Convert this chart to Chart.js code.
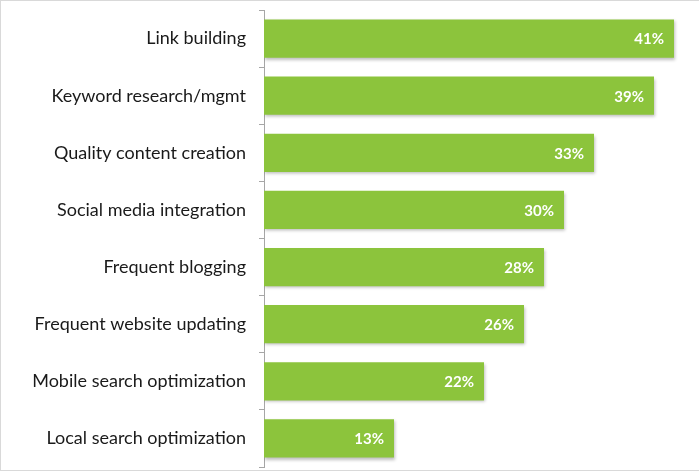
<!DOCTYPE html>
<html>
<head>
<meta charset="utf-8">
<script src="https://cdn.jsdelivr.net/npm/chart.js@4"></script>
<style>
  html, body { margin: 0; padding: 0; background: #fff; }
  .frame { width: 698px; height: 469px; border: 1px solid #d9d9d9; border-right: none; position: relative; }
  canvas { display: block; }
</style>
</head>
<body>
<div class="frame"><canvas id="myChart" width="698" height="469"></canvas></div>
<script>
const categories = ['Link building', 'Keyword research/mgmt', 'Quality content creation',
  'Social media integration', 'Frequent blogging', 'Frequent website updating',
  'Mobile search optimization', 'Local search optimization'];
const values = [41, 39, 33, 30, 28, 26, 22, 13];

// white percentage labels inside bar ends
const barLabels = {
  id: 'barLabels',
  afterDatasetsDraw(chart) {
    const ctx = chart.ctx;
    const meta = chart.getDatasetMeta(0);
    ctx.save();
    ctx.fillStyle = '#fff';
    ctx.font = 'bold 15px Lato';
    ctx.textAlign = 'right';
    ctx.textBaseline = 'middle';
    meta.data.forEach(function(bar, i) {
      ctx.fillText(values[i] + '%', bar.x - 10, bar.y + 1);
    });
    ctx.restore();
  }
};

// soft shadow under bars
const barShadow = {
  id: 'barShadow',
  beforeDatasetDraw(chart) {
    const ctx = chart.ctx;
    ctx.save();
    ctx.shadowColor = 'rgba(0,0,0,0.25)';
    ctx.shadowBlur = 3;
    ctx.shadowOffsetX = 1;
    ctx.shadowOffsetY = 2;
  },
  afterDatasetDraw(chart) {
    chart.ctx.restore();
  }
};

const ctx = document.getElementById('myChart');
new Chart(ctx, {
  type: 'bar',
  data: {
    labels: categories,
    datasets: [{
      data: values,
      backgroundColor: '#8cc43c',
      categoryPercentage: 0.67,
      barPercentage: 1
    }]
  },
  options: {
    indexAxis: 'y',
    responsive: false,
    animation: false,
    layout: { padding: { top: 9, bottom: 3, right: 0 } },
    plugins: { legend: { display: false }, tooltip: { enabled: false } },
    scales: {
      x: {
        display: false,
        min: 0,
        max: 43.5
      },
      y: {
        afterFit: function(scale) {
          scale.width = 263;
          scale.paddingTop = 0;
          scale.paddingBottom = 0;
        },
        border: { color: '#a6a6a6', width: 1 },
        grid: {
          offset: true,
          drawOnChartArea: false,
          color: '#a6a6a6',
          tickLength: 5
        },
        ticks: {
          color: '#1a1a1a',
          padding: 13,
          font: { family: 'Lato', size: 18 }
        }
      }
    }
  },
  plugins: [barShadow, barLabels]
});
</script>
</body>
</html>
